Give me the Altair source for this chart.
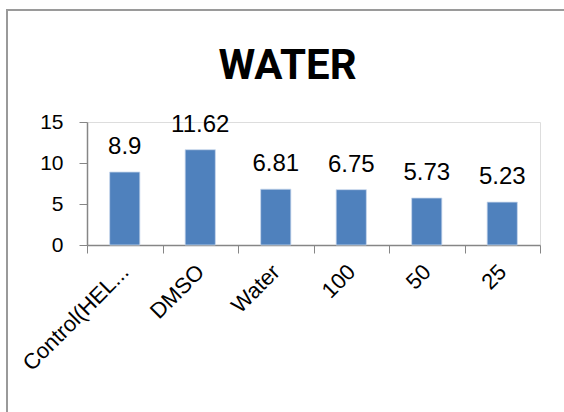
import altair as alt
import pandas as pd

categories = ["Control(HEL...", "DMSO", "Water", "100", "50", "25"]
values = [8.9, 11.62, 6.81, 6.75, 5.73, 5.23]
value_labels = ["8.9", "11.62", "6.81", "6.75", "5.73", "5.23"]
y_ticks = [0, 5, 10, 15]

df = pd.DataFrame({"category": categories, "value": values, "label": value_labels})

AXIS_GRAY = "#868686"
FONT = "Liberation Sans"

x_enc = alt.X(
    "category:N",
    sort=categories,
    scale=alt.Scale(paddingInner=0, paddingOuter=0),
    axis=alt.Axis(
        title=None,
        labelAngle=-45,
        labelAlign="right",
        labelBaseline="middle",
        labelFont=FONT,
        labelFontSize=22,
        labelColor="black",
        labelPadding=15,
        labelLimit=400,
        tickBand="extent",
        tickSize=8,
        tickColor=AXIS_GRAY,
        domainColor=AXIS_GRAY,
        domainWidth=1.5,
    ),
)
y_enc = alt.Y(
    "value:Q",
    scale=alt.Scale(domain=[0, 15], nice=False, zero=True),
    axis=alt.Axis(
        title=None,
        values=y_ticks,
        grid=False,
        labelFont=FONT,
        labelFontSize=21,
        labelColor="black",
        labelPadding=16,
        tickSize=8,
        tickColor=AXIS_GRAY,
        domainColor=AXIS_GRAY,
        domainWidth=1.5,
    ),
)

frame = alt.Chart(pd.DataFrame({"k": [0]})).mark_rect(
    filled=False, stroke="#9a9a9a", strokeWidth=2
).encode(
    x=alt.value(-80), x2=alt.value(520), y=alt.value(-112), y2=alt.value(330)
)

bars = alt.Chart(df).mark_bar(
    color="#4F81BD", width=alt.RelativeBandSize(0.4), stroke="#c9d8ec", strokeWidth=0.8
).encode(x=x_enc, y=y_enc)

texts = alt.Chart(df).mark_text(
    baseline="alphabetic", dy=-18, font=FONT, fontSize=24, color="black"
).encode(
    x=alt.X("category:N", sort=categories),
    y=alt.Y("value:Q"),
    text="label:N",
)

chart = alt.layer(frame, bars, texts).properties(
    width=453,
    height=123,
    padding={"left": 87, "top": 122, "right": 24, "bottom": 167},
    autosize=alt.AutoSizeParams(type="none"),
    title=alt.TitleParams(
        "WATER",
        font="Roboto",
        fontSize=42,
        fontWeight="bold",
        color="black",
        anchor="middle",
        frame="group",
        dx=-26,
        offset=-112,
        baseline="alphabetic",
    ),
).configure_view(stroke=None).configure(background="white")

chart.save("out.html", embed_options={"renderer": "svg", "actions": False})
